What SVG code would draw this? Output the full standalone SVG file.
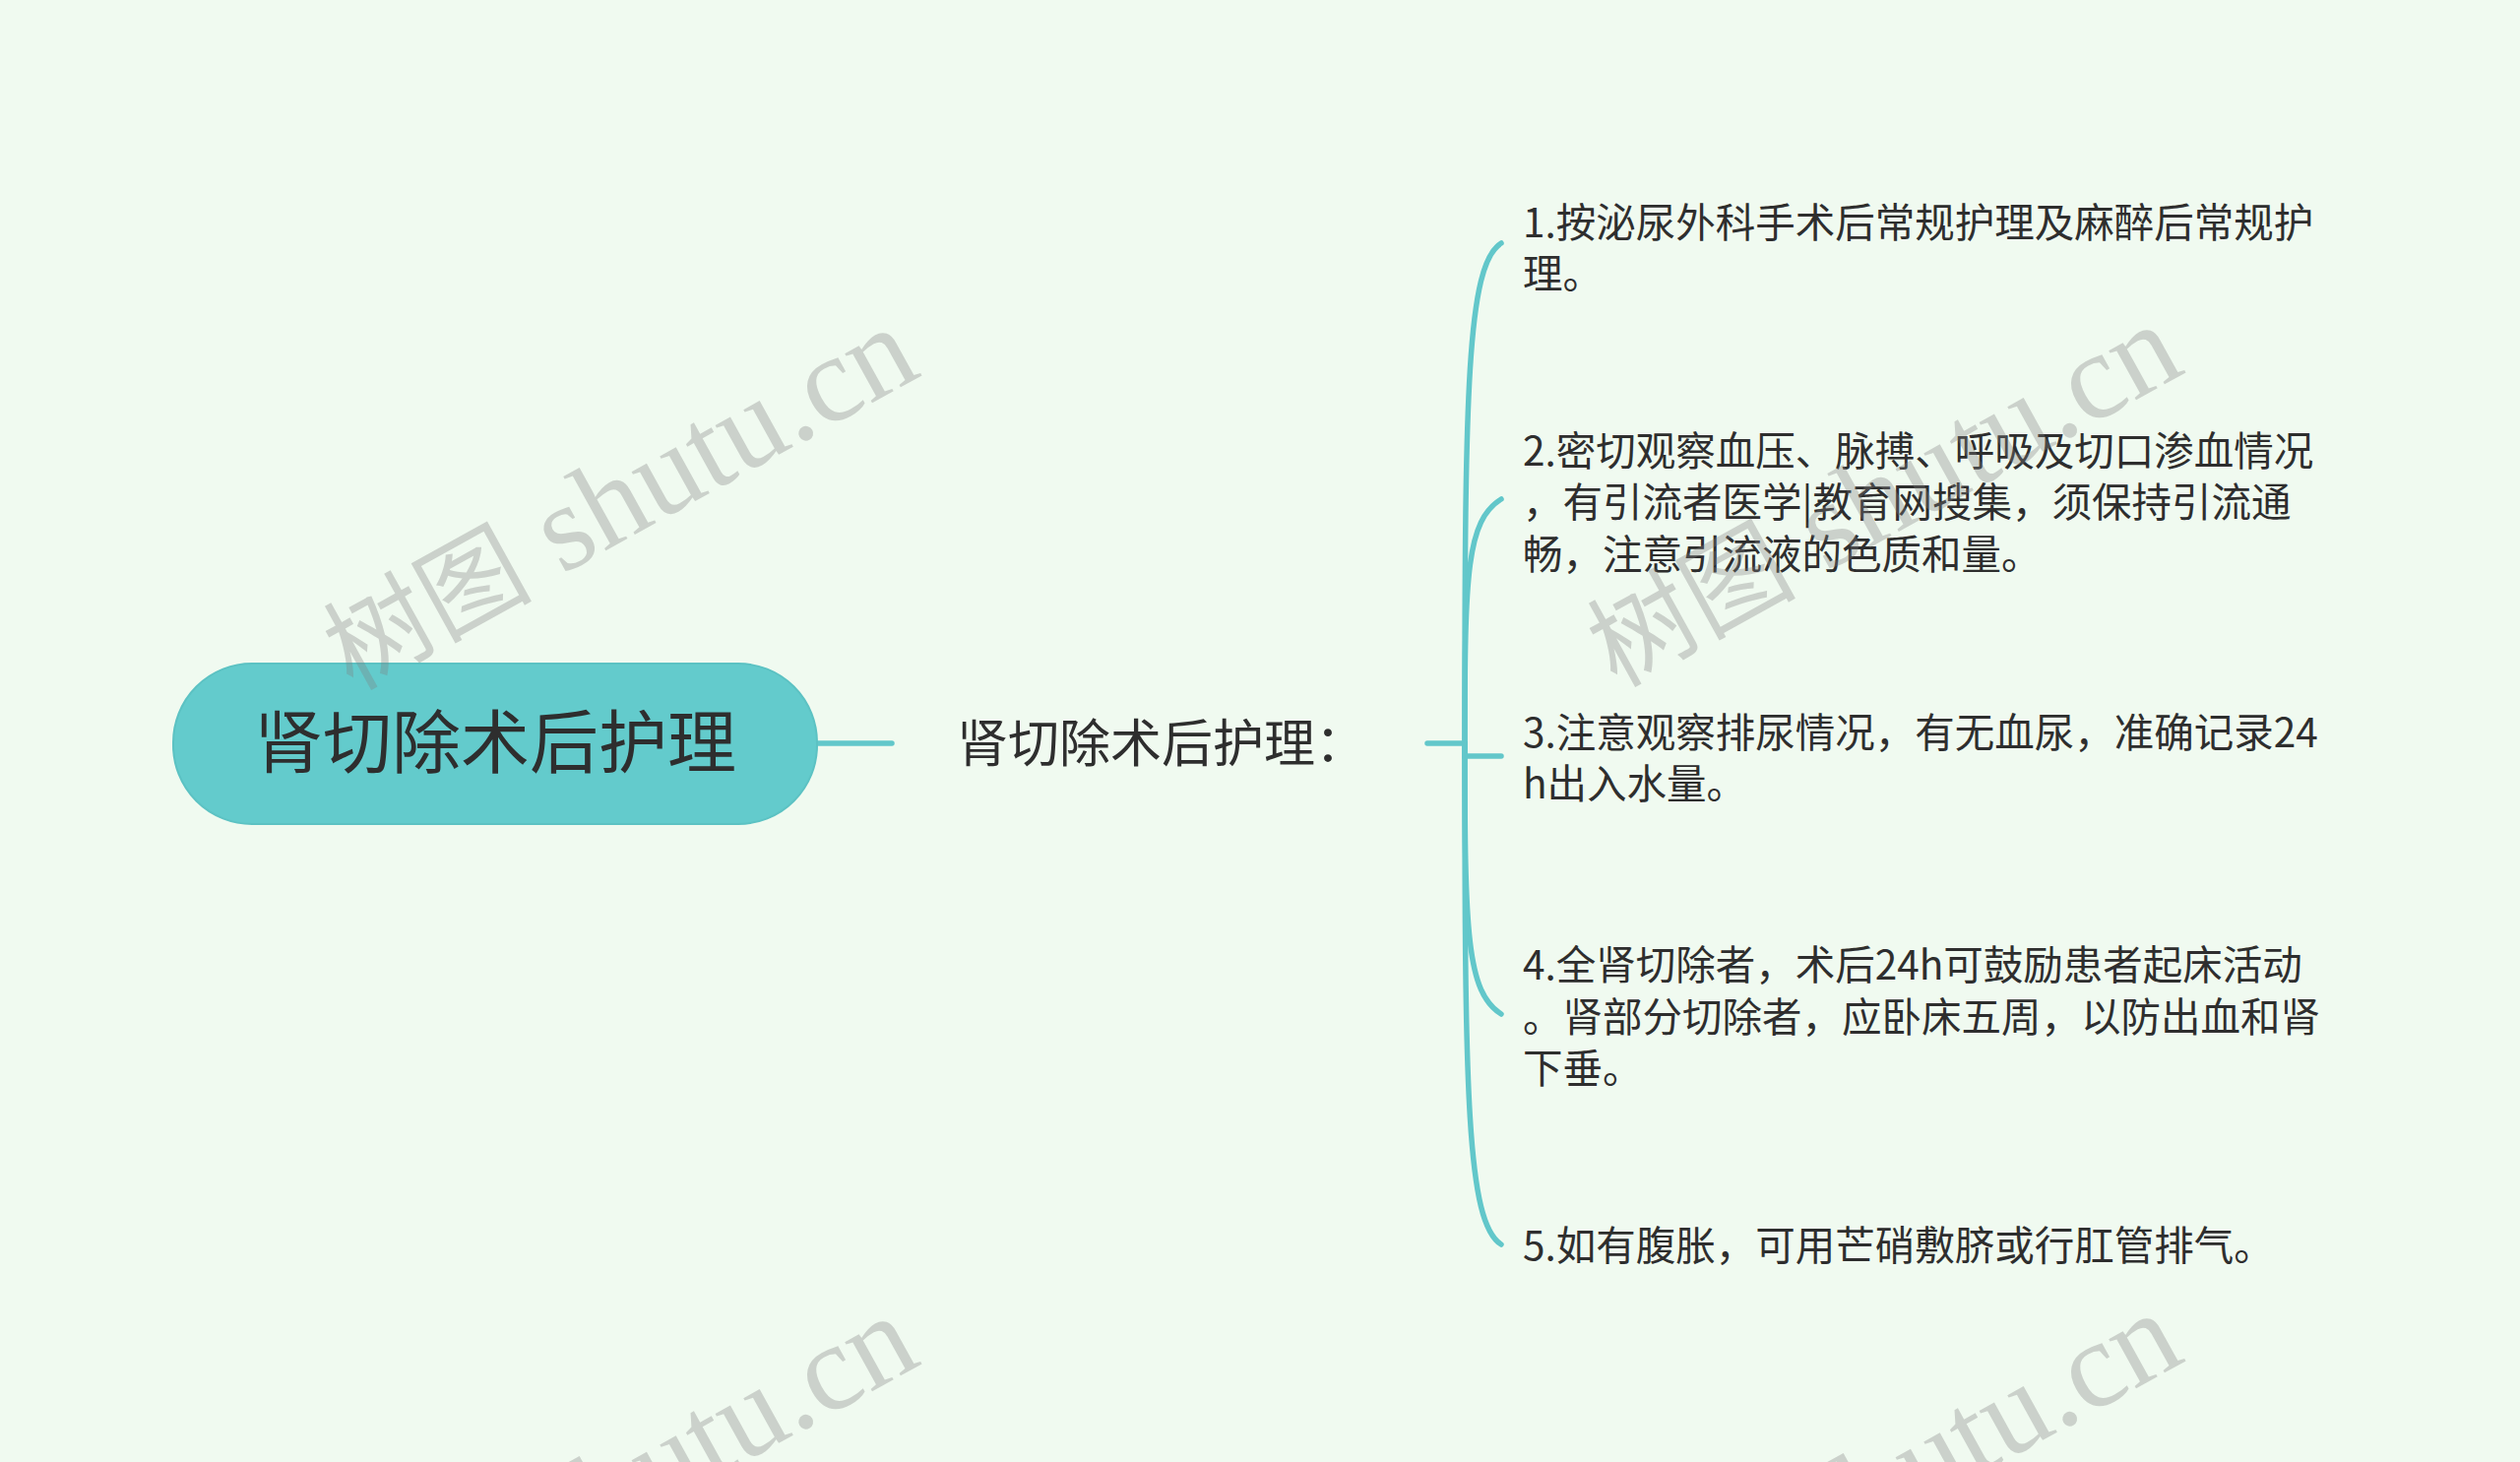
<svg xmlns="http://www.w3.org/2000/svg" width="2560" height="1485" viewBox="0 0 2560 1485">
  <style>
    .bg { fill: #f0faf0; }
    .edge { fill: none; stroke: #62c7ca; stroke-width: 5.5; stroke-linecap: round; }
    .root-box { fill: #63cbcc; stroke: #5cc2c3; stroke-width: 2; }
    .root-text { font-family: "Noto Sans CJK SC", "Noto Sans", sans-serif; font-size: 70px; fill: #2e2e2e; }
    .sub-text { font-family: "Noto Sans CJK SC", "Noto Sans", sans-serif; font-size: 52px; fill: #2e2e2e; }
    .item-text { font-family: "Noto Sans CJK SC", "Noto Sans", sans-serif; font-size: 40.5px; fill: #2e2e2e; }
    .wm { font-family: "Liberation Serif", "Noto Sans CJK SC", serif; font-size: 125px; fill: #808080; fill-opacity: 0.33; }
    .wm-cjk { font-size: 106px; }
  </style>
  <rect class="bg" x="0" y="0" width="2560" height="1485"/>

  <g id="connectors">
    <line class="edge" x1="830" y1="755" x2="906" y2="755"/>
    <line class="edge" x1="1450" y1="755" x2="1488" y2="755"/>
    <path class="edge" d="M1488,755 C1488,399 1490,269 1525,247"/>
    <path class="edge" d="M1488,755 C1488,581 1490,529 1525,507"/>
    <path class="edge" d="M1488,755 L1488,768 L1525,768"/>
    <path class="edge" d="M1488,755 C1488,948 1490,1008 1525,1030"/>
    <path class="edge" d="M1488,755 C1488,1111 1490,1242 1525,1264"/>
  </g>

  <g id="root">
    <rect class="root-box" x="176" y="674" width="654" height="163" rx="80" ry="80"/>
    <text class="root-text" x="503" y="780" text-anchor="middle">肾切除术后护理</text>
  </g>

  <g id="sub">
    <text class="sub-text" x="972" y="774">肾切除术后护理：</text>
  </g>

  <g id="item1">
    <text class="item-text" x="1547" y="241">1.按泌尿外科手术后常规护理及麻醉后常规护</text>
    <text class="item-text" x="1547" y="293">理。</text>
  </g>

  <g id="item2">
    <text class="item-text" x="1547" y="473">2.密切观察血压、脉搏、呼吸及切口渗血情况</text>
    <text class="item-text" x="1547" y="525">，有引流者医学|教育网搜集，须保持引流通</text>
    <text class="item-text" x="1547" y="578">畅，注意引流液的色质和量。</text>
  </g>

  <g id="item3">
    <text class="item-text" x="1547" y="759">3.注意观察排尿情况，有无血尿，准确记录24</text>
    <text class="item-text" x="1547" y="811">h出入水量。</text>
  </g>

  <g id="item4">
    <text class="item-text" x="1547" y="995">4.全肾切除者，术后24h可鼓励患者起床活动</text>
    <text class="item-text" x="1547" y="1048">。肾部分切除者，应卧床五周，以防出血和肾</text>
    <text class="item-text" x="1547" y="1100">下垂。</text>
  </g>

  <g id="item5">
    <text class="item-text" x="1547" y="1280">5.如有腹胀，可用芒硝敷脐或行肛管排气。</text>
  </g>

  <g id="watermarks">
    <text class="wm" transform="translate(358,702) rotate(-29)"><tspan class="wm-cjk">树图</tspan> shutu.cn</text>
    <text class="wm" transform="translate(1642,699) rotate(-29)"><tspan class="wm-cjk">树图</tspan> shutu.cn</text>
    <text class="wm" transform="translate(358,1706) rotate(-29)"><tspan class="wm-cjk">树图</tspan> shutu.cn</text>
    <text class="wm" transform="translate(1642,1703) rotate(-29)"><tspan class="wm-cjk">树图</tspan> shutu.cn</text>
  </g>
</svg>
